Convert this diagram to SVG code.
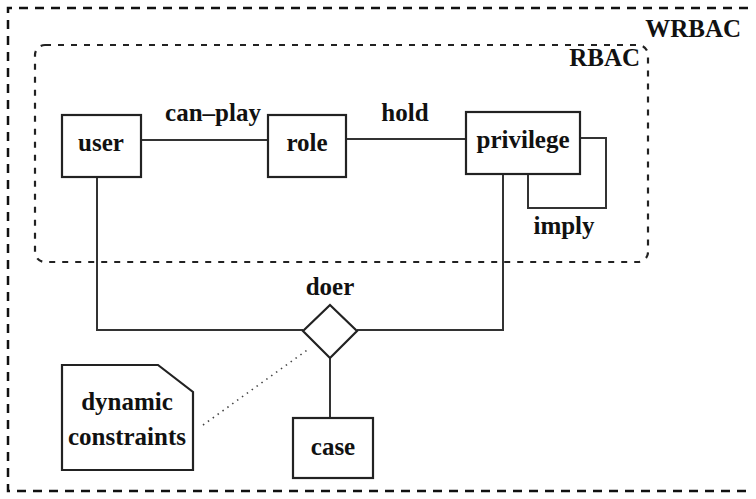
<svg xmlns="http://www.w3.org/2000/svg" width="756" height="499" viewBox="0 0 756 499">
<style>
.t{font-family:'Liberation Serif','DejaVu Serif',serif;font-weight:700;font-size:25px;fill:#111;}
.box{fill:#fff;stroke:#222;stroke-width:2.2;}
.ln{fill:none;stroke:#333;stroke-width:2;}
.c{text-anchor:middle;}
</style>
<rect width="756" height="499" fill="#fff"/>
<g id="WRBAC">
<path d="M748,8 L8,8 L8,491 L748,491" fill="none" stroke="#111" stroke-width="2.5" stroke-dasharray="9,7"/>
<text class="t" x="741" y="37" text-anchor="end" font-family="Liberation Serif">WRBAC</text>
</g>
<g id="RBAC">
<rect x="35" y="45" width="613" height="217" rx="10" fill="none" stroke="#222" stroke-width="2.2" stroke-dasharray="6,7"/>
<text class="t" x="640" y="66" text-anchor="end">RBAC</text>
</g>
<g id="connectors">
<line class="ln" x1="141" y1="140" x2="268" y2="140"/>
<line class="ln" x1="346" y1="139" x2="466" y2="139"/>
<path class="ln" d="M580,138 H606 V208 H528 V174"/>
<path class="ln" d="M97,177 V330 H303"/>
<path class="ln" d="M503,174 V330 H357"/>
<line class="ln" x1="330" y1="358" x2="330" y2="418"/>
<line x1="203" y1="425" x2="310" y2="348" stroke="#444" stroke-width="1.6" stroke-dasharray="1.5,4.5"/>
<text class="t c" x="213" y="121">can–play</text>
<text class="t c" x="405" y="121">hold</text>
<text class="t c" x="564" y="234">imply</text>
<text class="t c" x="330" y="295">doer</text>
</g>
<g id="user">
<rect class="box" x="62" y="115" width="79" height="62"/>
<text class="t c" x="101" y="151">user</text>
</g>
<g id="role">
<rect class="box" x="268" y="115" width="78" height="62"/>
<text class="t c" x="307" y="151">role</text>
</g>
<g id="privilege">
<rect class="box" x="466" y="112" width="114" height="62"/>
<text class="t c" x="523" y="148">privilege</text>
</g>
<g id="doer">
<polygon class="box" points="330,305 357,331 330,358 303,331"/>
</g>
<g id="case">
<rect class="box" x="293" y="418" width="80" height="60"/>
<text class="t c" x="333" y="455">case</text>
</g>
<g id="dynamic-constraints">
<polygon class="box" points="62,365 158,365 193,392 193,470 62,470"/>
<text class="t c" x="127" y="410">dynamic</text>
<text class="t c" x="127" y="445">constraints</text>
</g>
</svg>
